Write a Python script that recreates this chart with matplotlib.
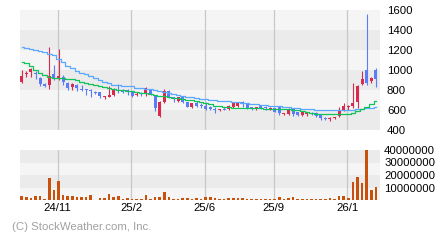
import matplotlib
matplotlib.use("Agg")
import matplotlib.pyplot as plt
import numpy as np

plt.rcParams['font.family'] = ['Liberation Sans', 'DejaVu Sans']

# ---- data (weekly candles) ----
opens = [880, 960, 980, 970, 925, 865, 850, 960, 910, 933,
         873, 827, 850, 810, 802, 795, 780, 777, 730, 735,
         750, 795, 805, 795, 777, 752, 768, 757, 807, 745,
         540, 683, 793, 727, 693, 733, 683, 633, 673, 645,
         643, 633, 610, 600, 610, 607, 627, 643, 675, 660,
         627, 610, 640, 622, 607, 617, 640, 557, 560, 607,
         583, 550, 560, 570, 573, 547, 520, 515, 518, 540,
         605, 630, 640, 683, 865, 1000, 887, 1000]
highs = [1000, 990, 1025, 995, 935, 870, 1235, 1055, 1210, 950,
         883, 867, 857, 850, 807, 807, 793, 780, 743, 840,
         817, 857, 810, 813, 787, 783, 783, 827, 807, 745,
         690, 807, 800, 733, 733, 740, 683, 673, 693, 667,
         683, 640, 627, 613, 627, 650, 680, 677, 690, 667,
         630, 633, 643, 640, 627, 620, 640, 573, 617, 617,
         583, 587, 577, 577, 580, 553, 527, 527, 530, 630,
         670, 650, 867, 850, 993, 1560, 930, 1017]
lows = [870, 930, 935, 915, 845, 835, 810, 905, 900, 855,
        800, 800, 790, 793, 750, 733, 757, 723, 710, 727,
        740, 767, 773, 753, 733, 740, 740, 743, 750, 590,
        533, 673, 717, 683, 683, 667, 627, 623, 633, 623,
        600, 600, 573, 593, 597, 597, 617, 627, 627, 613,
        605, 600, 607, 600, 603, 580, 550, 550, 550, 540,
        537, 540, 540, 553, 527, 500, 500, 493, 513, 533,
        590, 600, 617, 617, 850, 850, 870, 833]
closes = [940, 970, 1015, 962, 865, 845, 940, 915, 943, 883,
          823, 857, 817, 805, 797, 790, 775, 740, 737, 750,
          810, 790, 780, 790, 743, 765, 763, 817, 757, 620,
          683, 793, 723, 707, 727, 683, 633, 670, 640, 640,
          607, 607, 605, 605, 605, 640, 667, 667, 670, 623,
          610, 627, 613, 618, 620, 583, 567, 562, 607, 565,
          550, 577, 565, 560, 537, 520, 515, 520, 522, 605,
          645, 638, 667, 840, 910, 873, 925, 910]
volume_m = [3.2, 2.4, 1.6, 3.2, 3.2, 0.8, 17.6, 8.0, 15.2, 4.0,
            3.2, 3.2, 2.4, 2.4, 2.4, 4.0, 0.1, 1.6, 1.6, 4.8,
            2.4, 3.2, 0.8, 1.6, 0.8, 0.8, 0.8, 4.0, 0.8, 2.4,
            2.4, 6.4, 2.4, 0.8, 0.8, 1.6, 1.6, 0.8, 1.6, 0.8,
            2.4, 2.4, 1.6, 0.8, 0.8, 1.6, 1.6, 1.6, 1.6, 0.8,
            0.8, 0.8, 0.8, 0.8, 0.8, 0.8, 2.4, 0.8, 1.6, 2.4,
            0.8, 0.8, 0.8, 0.8, 0.8, 0.8, 0.8, 1.6, 0.8, 3.2,
            3.2, 1.6, 14.4, 18.4, 13.6, 40.0, 8.0, 10.4]
ma_long = [1235, 1225, 1210, 1200, 1190, 1180, 1165, 1155, 1110, 1085,
           1045, 1020, 995, 975, 960, 940, 925, 905, 885, 870,
           855, 850, 845, 845, 840, 825, 820, 815, 810, 800,
           795, 780, 770, 760, 750, 745, 735, 730, 725, 715,
           710, 705, 700, 695, 690, 690, 685, 680, 675, 670,
           665, 660, 655, 650, 645, 640, 637, 630, 627, 623,
           620, 615, 610, 607, 603, 600, 600, 600, 598, 597,
           597, 597, 600, 607, 615, 622, 625, 627]
ma_short = [1085, 1070, 1040, 1005, 970, 950, 935, 925, 920, 917,
            912, 907, 903, 885, 870, 860, 850, 840, 830, 820,
            810, 803, 797, 793, 787, 780, 773, 770, 765, 755,
            745, 738, 730, 725, 720, 712, 705, 698, 692, 683,
            670, 657, 645, 638, 630, 627, 625, 623, 622, 620,
            618, 617, 616, 615, 614, 613, 612, 611, 610, 605,
            600, 590, 583, 575, 565, 560, 560, 560, 560, 560,
            560, 563, 575, 595, 615, 635, 660, 690]
x_labels = ['24/11', '25/2', '25/6', '25/9', '26/1']
label_idx = [8, 24, 40, 55, 71]
price_ticks = [400, 600, 800, 1000, 1200, 1400, 1600]
vol_ticks = [10000000, 20000000, 30000000, 40000000]

# ---- styles ----
UP = '#d8294f'
DOWN = '#5b7cf8'
VOLC = '#c8520c'
LIGHT = '#f5f5f5'
DARK = '#ebebeb'
GRID = '#c8c8c8'

n = len(opens)
x = np.arange(n)
xlim = (-0.37, n - 0.11)

fig = plt.figure(figsize=(4.4, 2.4), dpi=100)
fig.patch.set_facecolor('white')
axp = fig.add_axes([20/440, 110/240, 360/440, 120/240])
axv = fig.add_axes([20/440, 40/240, 360/440, 50/240])

# background bands
for k, (lo, hi) in enumerate(zip(price_ticks[:-1], price_ticks[1:])):
    axp.axhspan(lo, hi, color=DARK if k % 2 == 0 else LIGHT, lw=0, zorder=0)
vb = [0] + vol_ticks
for k, (lo, hi) in enumerate(zip(vb[:-1], vb[1:])):
    axv.axhspan(lo, hi, color=LIGHT if k % 2 == 0 else DARK, lw=0, zorder=0)

for ax in (axp, axv):
    for li in label_idx:
        ax.axvline(li - 0.2, color=GRID, lw=0.9, zorder=1)
    for s in ax.spines.values():
        s.set_visible(False)
    ax.set_xlim(*xlim)

# candles
o = np.array(opens, float); c = np.array(closes, float)
h = np.array(highs, float); l = np.array(lows, float)
up = c >= o
cols = [UP if u else DOWN for u in up]
axp.vlines(x, l, h, colors=cols, lw=0.8, zorder=3)
body_lo = np.minimum(o, c)
body_h = np.maximum(np.abs(c - o), 9)
axp.bar(x, body_h, bottom=body_lo, width=0.62, color=cols, lw=0, zorder=4)

axp.step(x, ma_long, where='mid', color='#5aa8ff', lw=0.9, zorder=5)
axp.step(x, ma_short, where='mid', color='#12c25a', lw=0.9, zorder=6)

axp.set_ylim(400, 1600)
axp.yaxis.tick_right()
axp.set_yticks(price_ticks)
axp.set_yticklabels([str(t) for t in price_ticks])
axp.tick_params(axis='y', length=0, pad=5, labelsize=8.2, colors='black')
axp.set_xticks([])

axv.bar(x, np.array(volume_m) * 1e6, width=0.6, color=VOLC, lw=0, zorder=3)
axv.set_ylim(0, 40e6)
axv.yaxis.tick_right()
axv.set_yticks(vol_ticks)
axv.set_yticklabels([str(t) for t in vol_ticks])
axv.tick_params(axis='y', length=0, pad=3, labelsize=8.2)
axv.set_xticks([li - 0.2 for li in label_idx])
axv.set_xticklabels(x_labels)
axv.tick_params(axis='x', length=0, pad=2, labelsize=8.2)

fig.text(12/440, 1 - 227/240, '(C) StockWeather.com, Inc.', color='#a0a0a0',
         fontsize=8.2, ha='left', va='center')

fig.savefig('out.png', dpi=100, facecolor='white')
